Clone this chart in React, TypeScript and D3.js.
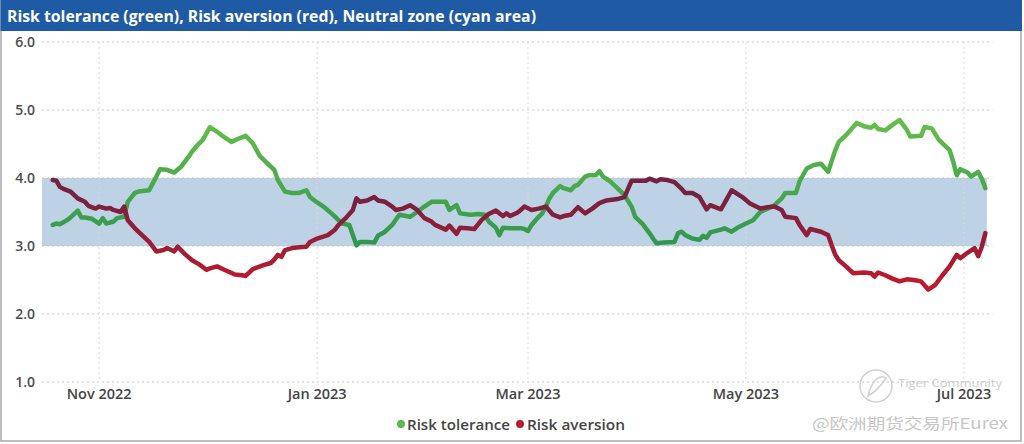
import React from "react";
import * as d3 from "d3";

const titleText = "Risk tolerance (green), Risk aversion (red), Neutral zone (cyan area)";
const yTickValues = [1, 2, 3, 4, 5, 6];
const monthTicks = ["2022-11-01", "2023-01-01", "2023-03-01", "2023-05-01", "2023-07-01"];
const neutralZone = [3, 4];
const legendItems = ["Risk tolerance", "Risk aversion"];

const greenDates = [
  "2022-10-19","2022-10-20","2022-10-21","2022-10-23","2022-10-24","2022-10-26","2022-10-27","2022-10-28","2022-10-30",
  "2022-11-01","2022-11-02","2022-11-03","2022-11-05","2022-11-06","2022-11-08","2022-11-09","2022-11-11","2022-11-12",
  "2022-11-15","2022-11-17","2022-11-18","2022-11-20","2022-11-22","2022-11-24","2022-11-26","2022-11-27","2022-11-29",
  "2022-11-30","2022-12-02","2022-12-04","2022-12-06","2022-12-08","2022-12-10","2022-12-12","2022-12-14","2022-12-16",
  "2022-12-18","2022-12-20","2022-12-21","2022-12-23","2022-12-25","2022-12-27","2022-12-29","2022-12-30",
  "2023-01-01","2023-01-03","2023-01-05","2023-01-07","2023-01-08","2023-01-10","2023-01-12","2023-01-13","2023-01-15",
  "2023-01-17","2023-01-18","2023-01-20","2023-01-22","2023-01-24","2023-01-27","2023-01-29","2023-01-31",
  "2023-02-02","2023-02-04","2023-02-06","2023-02-07","2023-02-09","2023-02-10","2023-02-13","2023-02-15","2023-02-17",
  "2023-02-18","2023-02-20","2023-02-21","2023-02-22","2023-02-24","2023-02-27","2023-02-28",
  "2023-03-01","2023-03-02","2023-03-04","2023-03-05","2023-03-06","2023-03-07","2023-03-08","2023-03-10","2023-03-11",
  "2023-03-13","2023-03-14","2023-03-15","2023-03-17","2023-03-18","2023-03-20","2023-03-21","2023-03-22","2023-03-24",
  "2023-03-26","2023-03-28","2023-03-30","2023-03-31",
  "2023-04-02","2023-04-04","2023-04-05","2023-04-06","2023-04-08","2023-04-11","2023-04-12","2023-04-13","2023-04-14",
  "2023-04-16","2023-04-18","2023-04-19","2023-04-20","2023-04-21","2023-04-24","2023-04-25","2023-04-27","2023-04-29",
  "2023-05-01","2023-05-03","2023-05-05","2023-05-07","2023-05-09","2023-05-11","2023-05-12","2023-05-15","2023-05-16",
  "2023-05-18","2023-05-20","2023-05-22","2023-05-24","2023-05-26","2023-05-27","2023-05-29",
  "2023-06-01","2023-06-03","2023-06-05","2023-06-06","2023-06-07","2023-06-09","2023-06-11","2023-06-13","2023-06-15",
  "2023-06-16","2023-06-19","2023-06-20","2023-06-22","2023-06-24","2023-06-27","2023-06-28","2023-06-29","2023-06-30",
  "2023-07-02","2023-07-03","2023-07-05","2023-07-06","2023-07-07",
];
const greenValues = [
  3.31,3.33,3.32,3.38,3.42,3.52,3.42,3.42,3.40,
  3.33,3.41,3.33,3.36,3.41,3.43,3.65,3.78,3.80,
  3.82,4.02,4.13,4.12,4.08,4.17,4.31,4.39,4.51,
  4.56,4.75,4.68,4.60,4.53,4.58,4.62,4.51,4.32,
  4.22,4.12,3.97,3.80,3.78,3.78,3.82,3.72,
  3.64,3.57,3.48,3.38,3.33,3.31,3.01,3.06,3.06,
  3.05,3.15,3.21,3.31,3.46,3.43,3.50,3.58,
  3.65,3.65,3.65,3.53,3.60,3.48,3.46,3.47,3.46,
  3.36,3.27,3.16,3.27,3.26,3.26,3.25,
  3.22,3.31,3.43,3.48,3.58,3.70,3.78,3.88,3.85,
  3.82,3.88,3.90,4.02,4.04,4.04,4.10,4.02,3.95,
  3.85,3.75,3.58,3.43,
  3.33,3.19,3.11,3.04,3.05,3.06,3.19,3.21,3.16,
  3.11,3.09,3.15,3.12,3.20,3.24,3.26,3.21,3.28,
  3.33,3.38,3.50,3.55,3.60,3.70,3.78,3.78,3.95,
  4.14,4.19,4.21,4.09,4.41,4.53,4.63,
  4.81,4.76,4.74,4.78,4.72,4.70,4.78,4.85,4.71,
  4.61,4.62,4.75,4.73,4.56,4.41,4.24,4.04,4.13,
  4.08,4.02,4.09,3.99,3.85,
];

const redDates = [
  "2022-10-19","2022-10-20","2022-10-21","2022-10-22","2022-10-24","2022-10-26","2022-10-28","2022-10-29","2022-10-31",
  "2022-11-01","2022-11-03","2022-11-04","2022-11-05","2022-11-07","2022-11-08","2022-11-09","2022-11-11","2022-11-13",
  "2022-11-15","2022-11-17","2022-11-19","2022-11-20","2022-11-22","2022-11-23","2022-11-25","2022-11-27","2022-11-29",
  "2022-12-01","2022-12-02","2022-12-04","2022-12-06","2022-12-09","2022-12-11","2022-12-12","2022-12-14","2022-12-17",
  "2022-12-19","2022-12-20","2022-12-21","2022-12-22","2022-12-23","2022-12-25","2022-12-27","2022-12-29","2022-12-30",
  "2023-01-01","2023-01-04","2023-01-06","2023-01-07","2023-01-09","2023-01-11","2023-01-12","2023-01-13","2023-01-15",
  "2023-01-17","2023-01-18","2023-01-20","2023-01-22","2023-01-23","2023-01-25","2023-01-27","2023-01-29","2023-01-31",
  "2023-02-02","2023-02-03","2023-02-06","2023-02-07","2023-02-09","2023-02-10","2023-02-12","2023-02-14","2023-02-16",
  "2023-02-18","2023-02-20","2023-02-22","2023-02-23","2023-02-24","2023-02-26","2023-02-27","2023-02-28",
  "2023-03-02","2023-03-04","2023-03-06","2023-03-08","2023-03-10","2023-03-11","2023-03-13","2023-03-15","2023-03-17",
  "2023-03-19","2023-03-21","2023-03-23","2023-03-26","2023-03-28","2023-03-30",
  "2023-04-01","2023-04-03","2023-04-04","2023-04-06","2023-04-07","2023-04-09","2023-04-11","2023-04-13","2023-04-14",
  "2023-04-16","2023-04-18","2023-04-20","2023-04-21","2023-04-24","2023-04-25","2023-04-27","2023-04-30",
  "2023-05-02","2023-05-05","2023-05-07","2023-05-09","2023-05-11","2023-05-12","2023-05-15","2023-05-16","2023-05-18",
  "2023-05-19","2023-05-22","2023-05-24","2023-05-25","2023-05-26","2023-05-27","2023-05-29","2023-05-31",
  "2023-06-03","2023-06-05","2023-06-06","2023-06-07","2023-06-09","2023-06-11","2023-06-13","2023-06-15","2023-06-17",
  "2023-06-19","2023-06-21","2023-06-23","2023-06-25","2023-06-27","2023-06-29","2023-06-30",
  "2023-07-02","2023-07-04","2023-07-05","2023-07-06","2023-07-07",
];
const redValues = [
  3.97,3.96,3.87,3.84,3.80,3.70,3.65,3.59,3.55,
  3.58,3.55,3.56,3.53,3.50,3.58,3.38,3.26,3.16,
  3.06,2.92,2.94,2.97,2.92,2.99,2.88,2.79,2.73,
  2.65,2.67,2.70,2.65,2.58,2.57,2.56,2.66,2.72,
  2.75,2.80,2.87,2.84,2.94,2.97,2.98,2.99,3.06,
  3.11,3.16,3.24,3.31,3.41,3.53,3.70,3.65,3.67,
  3.72,3.67,3.65,3.58,3.53,3.55,3.60,3.53,3.41,
  3.36,3.31,3.24,3.30,3.18,3.27,3.26,3.25,3.38,
  3.47,3.52,3.44,3.48,3.44,3.49,3.53,3.58,
  3.53,3.55,3.58,3.46,3.42,3.44,3.46,3.57,3.48,
  3.55,3.63,3.67,3.69,3.72,3.96,
  3.96,3.96,3.99,3.95,3.98,3.97,3.94,3.84,3.78,
  3.78,3.72,3.54,3.60,3.54,3.63,3.82,3.72,
  3.63,3.55,3.57,3.58,3.53,3.43,3.41,3.31,3.16,
  3.25,3.21,3.16,3.01,2.87,2.79,2.70,2.60,
  2.61,2.60,2.55,2.61,2.57,2.52,2.48,2.51,2.50,
  2.48,2.36,2.43,2.57,2.70,2.87,2.82,
  2.90,2.97,2.85,2.99,3.19,
];

const parse = d3.timeParse("%Y-%m-%d");

export default function App() {
  const W = 1024;
  const H = 444;
  const x = d3
    .scaleTime()
    .domain([parse("2022-10-16")!, parse("2023-07-09")!])
    .range([42, 992.5]);
  const y = d3.scaleLinear().domain([1, 6]).range([382, 42]);

  const green = greenDates.map((d, i) => ({ d: parse(d)!, v: greenValues[i] }));
  const red = redDates.map((d, i) => ({ d: parse(d)!, v: redValues[i] }));
  const line = d3
    .line<{ d: Date; v: number }>()
    .x((p) => x(p.d))
    .y((p) => y(p.v));

  const fmtY = d3.format(".1f");
  const fmtX = d3.timeFormat("%b %Y");
  const [x0, x1] = x.range();
  const lastDate = red[red.length - 1].d;
  const bandRight = x(lastDate) + 1.5;

  const font = "'Open Sans', 'Noto Sans', sans-serif";

  return (
    <svg
      width={W}
      height={H}
      viewBox={`0 0 ${W} ${H}`}
      style={{ position: "absolute", left: 0, top: 0, background: "#fff" }}
    >
      <defs>
        <linearGradient id="gGreen" gradientUnits="userSpaceOnUse" x1={0} y1={y(4.8)} x2={0} y2={y(3.1)}>
          <stop offset="0" stopColor="#63bd48" />
          <stop offset="1" stopColor="#33984f" />
        </linearGradient>
        <linearGradient id="gRed" gradientUnits="userSpaceOnUse" x1={0} y1={y(2.4)} x2={0} y2={y(3.7)}>
          <stop offset="0" stopColor="#c01a2a" />
          <stop offset="1" stopColor="#772140" />
        </linearGradient>
      </defs>

      {/* frame */}
      <rect x={1} y={1} width={1020} height={440} fill="#fff" stroke="#a9a9a9" strokeWidth={1.5} />
      <rect x={0.5} y={0} width={1021.5} height={31} fill="#1e5ba4" />
      <text
        x={7}
        y={21.5}
        fill="#fff"
        fontFamily={font}
        fontWeight={700}
        fontSize={15.5}
        textLength={529}
        lengthAdjust="spacingAndGlyphs"
      >
        {titleText}
      </text>

      {/* neutral zone */}
      <rect
        x={x0}
        y={y(neutralZone[1])}
        width={bandRight - x0}
        height={y(neutralZone[0]) - y(neutralZone[1])}
        fill="#bed2e5"
      />

      {/* grid */}
      {yTickValues.map((t) => (
        <line
          key={"gy" + t}
          x1={x0}
          x2={x1}
          y1={y(t)}
          y2={y(t)}
          stroke="#c8c8c8"
          strokeWidth={1}
          strokeDasharray="2,3"
        />
      ))}
      {monthTicks.map((t) => (
        <line
          key={"gx" + t}
          x1={x(parse(t)!)}
          x2={x(parse(t)!)}
          y1={y(6)}
          y2={y(1)}
          stroke="#d8d8d8"
          strokeWidth={1}
          strokeDasharray="2,3"
        />
      ))}

      {/* watermark (behind labels) */}
      <g opacity={0.85}>
        <circle cx={876} cy={386} r={16} fill="none" stroke="#c9c9c9" strokeWidth={1.5} />
        <path d="M868,396 C872,380 880,374 886,378 C882,384 876,392 868,396 Z" fill="none" stroke="#c9c9c9" strokeWidth={1.5} />
        <text x={898} y={387} fill="#c4c4c4" fontFamily={font} fontSize={11} textLength={104} lengthAdjust="spacingAndGlyphs">
          Tiger Community
        </text>
        <text
          x={812}
          y={429}
          fill="#bdbdbd"
          fontFamily="'Noto Sans CJK SC', 'Noto Sans', sans-serif"
          fontSize={15}
          textLength={196}
          lengthAdjust="spacingAndGlyphs"
        >
          @欧洲期货交易所Eurex
        </text>
      </g>

      {/* y labels */}
      {yTickValues.map((t) => (
        <text
          key={"ly" + t}
          x={35}
          y={y(t) + 5}
          textAnchor="end"
          fill="#4d4d4d"
          fontFamily={font}
          fontWeight={600}
          fontSize={14}
        >
          {fmtY(t)}
        </text>
      ))}

      {/* x labels */}
      {monthTicks.map((t) => (
        <text
          key={"lx" + t}
          x={x(parse(t)!)}
          y={399}
          textAnchor="middle"
          fill="#444"
          fontFamily={font}
          fontWeight={600}
          fontSize={14.5}
        >
          {fmtX(parse(t)!)}
        </text>
      ))}

      {/* lines */}
      <path d={line(green) || ""} fill="none" stroke="url(#gGreen)" strokeWidth={4.5} strokeLinejoin="round" strokeLinecap="round" />
      <path d={line(red) || ""} fill="none" stroke="url(#gRed)" strokeWidth={4.5} strokeLinejoin="round" strokeLinecap="round" />

      {/* legend */}
      <circle cx={401} cy={424} r={4} fill="#5cb84a" />
      <text x={407} y={429.5} fill="#444" fontFamily={font} fontWeight={600} fontSize={15} textLength={103} lengthAdjust="spacingAndGlyphs">
        {legendItems[0]}
      </text>
      <circle cx={520} cy={424} r={4} fill="#b81c2c" />
      <text x={527} y={429.5} fill="#444" fontFamily={font} fontWeight={600} fontSize={15} textLength={98} lengthAdjust="spacingAndGlyphs">
        {legendItems[1]}
      </text>
    </svg>
  );
}
